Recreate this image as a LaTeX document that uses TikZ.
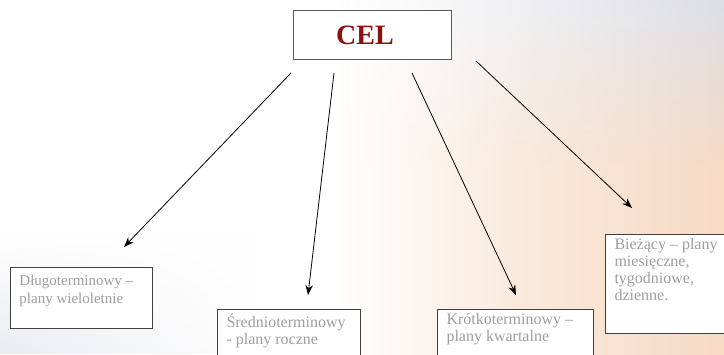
\documentclass[tikz,border=0pt]{standalone}
\usepackage{fontspec}
\setmainfont{Liberation Serif}
\usepackage{tikz}
\usetikzlibrary{positioning,arrows.meta,fadings}

\definecolor{celred}{HTML}{8C1010}
\definecolor{boxtext}{HTML}{9E9E9E}
\definecolor{peach}{HTML}{F3CBAC}
\definecolor{haze}{HTML}{DCDFE7}

\pgfdeclarehorizontalshading{bgshade}{100bp}{color(0bp)=(white); color(48bp)=(white);
  color(62bp)=(white!55!peach); color(80bp)=(white!20!peach); color(100bp)=(peach)}

\tikzset{
  planbox/.style={draw=black!75, line width=1pt, fill=white, anchor=north west,
    inner xsep=9pt, inner ysep=0pt, text=boxtext,
    font=\fontsize{16}{17}\selectfont},
  arr/.style={-{Stealth[length=10pt,width=7.5pt]}, line width=0.8pt}
}

\begin{document}
\begin{tikzpicture}[x=1pt, y=1pt]
  \useasboundingbox (0,0) rectangle (724,354);
  \clip (0,0) rectangle (724,354);
  % background
  \shade[shading=bgshade] (0,0) rectangle (724,354);
  \shade[left color=white, right color=haze, path fading=south] (350,190) rectangle (724,354);
  \shade[left color=haze, right color=white, path fading=north, opacity=0.6] (0,0) rectangle (260,120);

  % nodes
  \node[draw=black!65, line width=1pt, fill=white, minimum width=158, minimum height=49,
    text=celred, font=\fontsize{28}{30}\selectfont\bfseries] (cel) at (372,318.5) {CEL\hspace*{14pt}};
  \node[planbox, minimum width=142, minimum height=61, font=\fontsize{15}{18}\selectfont] (dlugo) at (10,87)
    {\parbox[t][61pt][t]{124pt}{\vspace{8pt}Długoterminowy –\\plany wieloletnie}};
  \node[planbox, minimum width=143, minimum height=61] (srednio) at (217,45)
    {\parbox[t][61pt][t]{125pt}{\vspace{4pt}Średnioterminowy\\- plany roczne}};
  \node[planbox, minimum width=156, minimum height=61] (krotko) at (437,45)
    {\parbox[t][61pt][t]{138pt}{\vspace{4pt}Krótkoterminowy –\\plany kwartalne}};
  \node[planbox, minimum width=125, minimum height=99] (biez) at (605,120)
    {\parbox[t][99pt][t]{107pt}{\vspace{4pt}Bieżący – plany\\miesięczne,\\tygodniowe,\\dzienne.}};

  % arrow ends
  \coordinate (s1) at (291,281);
  \coordinate (e1) at (124,107);
  \coordinate (s2) at (334,281);
  \coordinate (e2) at (308,59);
  \coordinate (s3) at (412,281);
  \coordinate (e3) at (516,59);
  \coordinate (s4) at (476,293);
  \coordinate (e4) at (632,146);

  % edges
  \draw[arr] (s1) -- (e1);
  \draw[arr] (s2) -- (e2);
  \draw[arr] (s3) -- (e3);
  \draw[arr] (s4) -- (e4);
\end{tikzpicture}
\end{document}
